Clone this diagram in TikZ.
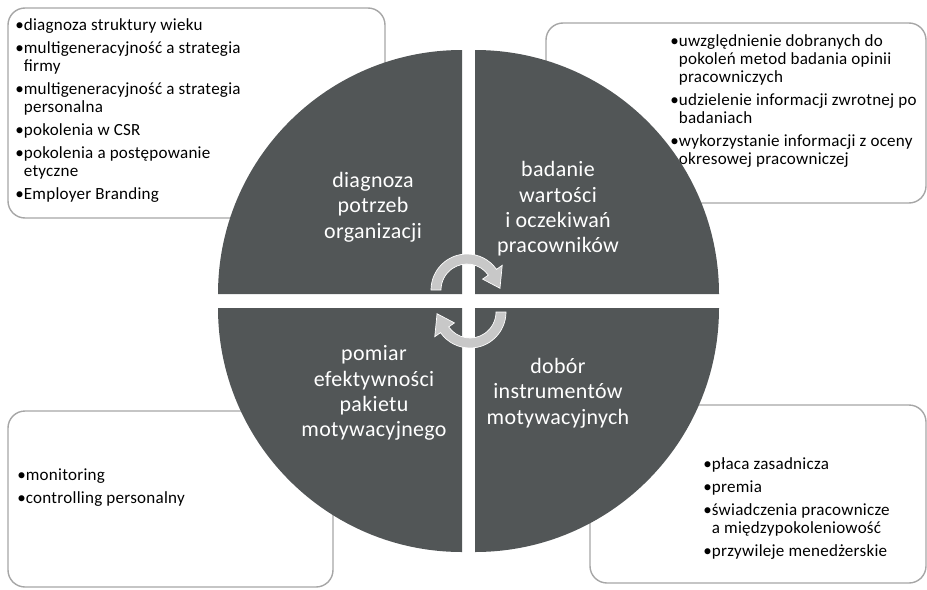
\documentclass[tikz,border=0pt]{standalone}
\usepackage{fontspec}
\setmainfont{Carlito}[LetterSpace=1.5]
\usetikzlibrary{calc}
\definecolor{sectorgray}{RGB}{82,86,87}
\definecolor{arrowgray}{RGB}{200,200,200}
\definecolor{framegray}{RGB}{166,166,166}
\newcommand{\pkt}{\makebox[0.5em][l]{•}}
\newcommand{\wc}{\hspace*{0.5em}}

\begin{document}
\begin{tikzpicture}[x=0.02cm,y=0.02cm]
	\tikzstyle{infobox}=[draw=framegray,line width=0.8pt,rounded corners=0.34cm]
	\tikzstyle{listtext}=[anchor=north west,inner sep=0pt,align=left,font=\fontsize{9.7}{10.2}\selectfont]
	\tikzstyle{sector}=[fill=sectorgray]
	\tikzstyle{sectortext}=[align=center,text=white,font=\fontsize{12.5}{14.4}\selectfont]
	\tikzstyle{roundarrow}=[fill=arrowgray,draw=white,line width=0.4pt]
	\useasboundingbox (0,0) rectangle (927,-589);
	% ramki z opisami
	\begin{scope}
		\draw[infobox] (8,-8) rectangle (385,-218);
		\draw[infobox] (546,-23) rectangle (926,-203);
		\draw[infobox] (8,-411) rectangle (333,-587);
		\draw[infobox] (590,-405) rectangle (926,-583);
		\node [listtext] (l1) at (15,-18) {\pkt diagnoza struktury wieku\\[3pt]
			\pkt multigeneracyjność a strategia\\ \wc firmy\\[3pt]
			\pkt multigeneracyjność a strategia\\ \wc personalna\\[3pt]
			\pkt pokolenia w CSR\\[3pt]
			\pkt pokolenia a postępowanie\\ \wc etyczne\\[3pt]
			\pkt Employer Branding};
		\node [listtext] (l2) at (670,-34) {\pkt uwzględnienie dobranych do\\ \wc pokoleń metod badania opinii\\ \wc pracowniczych\\[3pt]
			\pkt udzielenie informacji zwrotnej po\\ \wc badaniach\\[3pt]
			\pkt wykorzystanie informacji z oceny\\ \wc okresowej pracowniczej};
		\node [listtext] (l3) at (17,-468) {\pkt monitoring\\[3pt]
			\pkt controlling personalny};
		\node [listtext] (l4) at (703,-457) {\pkt płaca zasadnicza\\[3pt]
			\pkt premia\\[3pt]
			\pkt świadczenia pracownicze\\ \wc a międzypokoleniowość\\[3pt]
			\pkt przywileje menedżerskie};
	\end{scope}
	% kolo
	\begin{scope}
		\fill[sector] (462,-294) -- ++(-244,0) arc[start angle=180,end angle=90,radius=244] -- cycle;
		\fill[sector] (475,-294) -- ++(0,244) arc[start angle=90,end angle=0,radius=244] -- cycle;
		\fill[sector] (475,-308) -- ++(244,0) arc[start angle=0,end angle=-90,radius=244] -- cycle;
		\fill[sector] (462,-308) -- ++(0,-244) arc[start angle=-90,end angle=-180,radius=244] -- cycle;
		\node [sectortext] (s1) at (373,-207) {diagnoza\\ potrzeb\\ organizacji};
		\node [sectortext] (s2) at (558,-209) {badanie\\ wartości\\ i oczekiwań\\ pracowników};
		\node [sectortext] (s3) at (558,-393) {dobór\\ instrumentów\\ motywacyjnych};
		\node [sectortext] (s4) at (374,-393) {pomiar\\ efektywności\\ pakietu\\ motywacyjnego};
	\end{scope}
	% strzalki
	\coordinate (ca) at (467,-290);
	\coordinate (cb) at (470,-312);
	\fill[roundarrow] ($(ca)+(180:36)$) arc[start angle=180,end angle=35,radius=36] -- ($(ca)+(35:43)$) -- ($(ca)+(3:33)$)
		-- ($(ca)+(35:19)$) -- ($(ca)+(35:26)$) arc[start angle=35,end angle=180,radius=26] -- cycle;
	\fill[roundarrow] ($(cb)+(0:36)$) arc[start angle=0,end angle=-145,radius=36] -- ($(cb)+(215:43)$) -- ($(cb)+(183:33)$)
		-- ($(cb)+(215:19)$) -- ($(cb)+(215:26)$) arc[start angle=-145,end angle=0,radius=26] -- cycle;
\end{tikzpicture}
\end{document}
